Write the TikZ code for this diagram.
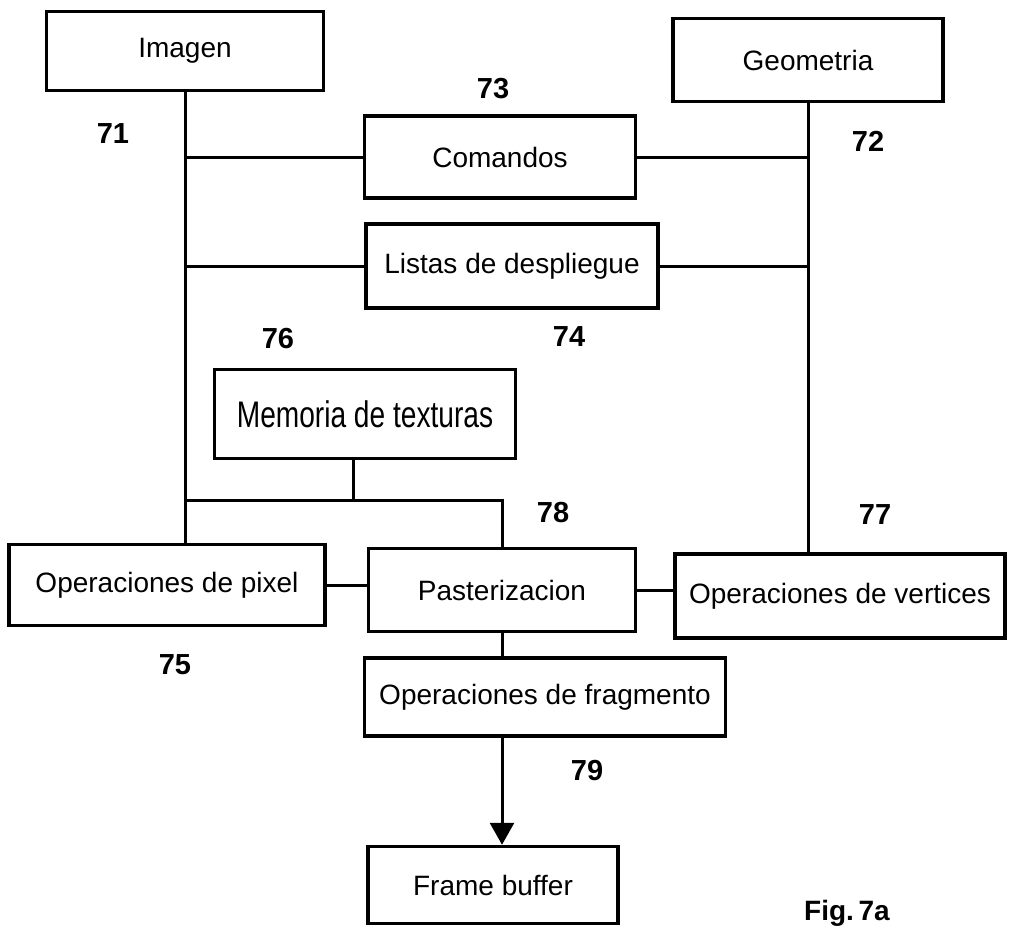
\documentclass[tikz,border=0pt]{standalone}
\usepackage{fontspec}
\usepackage{graphicx}
\setmainfont{Liberation Sans}
\usetikzlibrary{arrows.meta}
\begin{document}
\begin{tikzpicture}[x=1pt,y=-1pt,
  blk/.style={draw, line width=3.5pt, inner sep=0pt, font=\fontsize{28}{30}\selectfont},
  tag/.style={font=\bfseries\fontsize{29}{30}\selectfont, inner sep=0pt},
  wire/.style={line width=3pt},
]
\useasboundingbox (0,0) rectangle (1009,929);

% blocks
\node[blk, minimum width=277pt, minimum height=79pt] (img)  at (185,51)  {Imagen};
\node[blk, minimum width=270pt, minimum height=83pt] (geo)  at (808,60)  {Geometria};
\node[blk, minimum width=271pt, minimum height=82pt] (cmd)  at (500,157) {Comandos};
\node[blk, minimum width=292pt, minimum height=84pt] (lst)  at (512,266) {Listas de despliegue};
\node[blk, minimum width=301pt, minimum height=89pt] (mem)  at (365,414)
  {\scalebox{0.76}[1]{\fontsize{37}{40}\selectfont Memoria de texturas}};
\node[blk, minimum width=316pt, minimum height=81pt] (pix)  at (167,585) {Operaciones de pixel};
\node[blk, minimum width=267pt, minimum height=83pt] (ras)  at (502,590) {Pasterizacion};
\node[blk, minimum width=330pt, minimum height=84pt] (vtx)  at (840,596) {Operaciones de vertices};
\node[blk, minimum width=361pt, minimum height=78pt] (frag) at (545,697) {Operaciones de fragmento};
\node[blk, minimum width=250pt, minimum height=77pt] (fb)   at (493,885) {Frame buffer};

% reference numerals
\node[tag] (n71) at (113,134) {71};
\node[tag] (n72) at (868,141) {72};
\node[tag] (n73) at (493,89)  {73};
\node[tag] (n74) at (569,337) {74};
\node[tag] (n75) at (175,665) {75};
\node[tag] (n76) at (278,339) {76};
\node[tag] (n77) at (875,515) {77};
\node[tag] (n78) at (553,513) {78};
\node[tag] (n79) at (587,771) {79};
\node[font=\bfseries\fontsize{28}{30}\selectfont, inner sep=0pt] (fig) at (847,913) {Fig.\,7a};

% bus coordinates
\coordinate (tbus) at (187,500);

% image bus
\draw[wire] (img.south) -- (img.south |- pix.north);
\draw[wire] (img.south |- cmd.west) -- (cmd.west);
\draw[wire] (img.south |- lst.west) -- (lst.west);

% geometry bus
\draw[wire] (geo.south) -- (geo.south |- vtx.north);
\draw[wire] (cmd.east) -- (cmd.east -| geo.south);
\draw[wire] (lst.east) -- (lst.east -| geo.south);

% texture memory to rasterizer
\draw[wire] ([xshift=-12pt]mem.south) -- ([xshift=-12pt]mem.south |- tbus);
\draw[wire] (img.south |- tbus) -- (ras.north |- tbus) -- (ras.north);

% pixel / vertex operations to rasterizer
\draw[wire] (pix.east) -- (pix.east -| ras.west);
\draw[wire] (ras.east) -- (ras.east -| vtx.west);

% rasterizer to fragment operations to frame buffer
\draw[wire] (ras.south) -- (ras.south |- frag.north);
\draw[wire, -{Triangle[width=24pt,length=22pt]}] (ras.south |- frag.south) -- (ras.south |- fb.north);
\end{tikzpicture}
\end{document}
